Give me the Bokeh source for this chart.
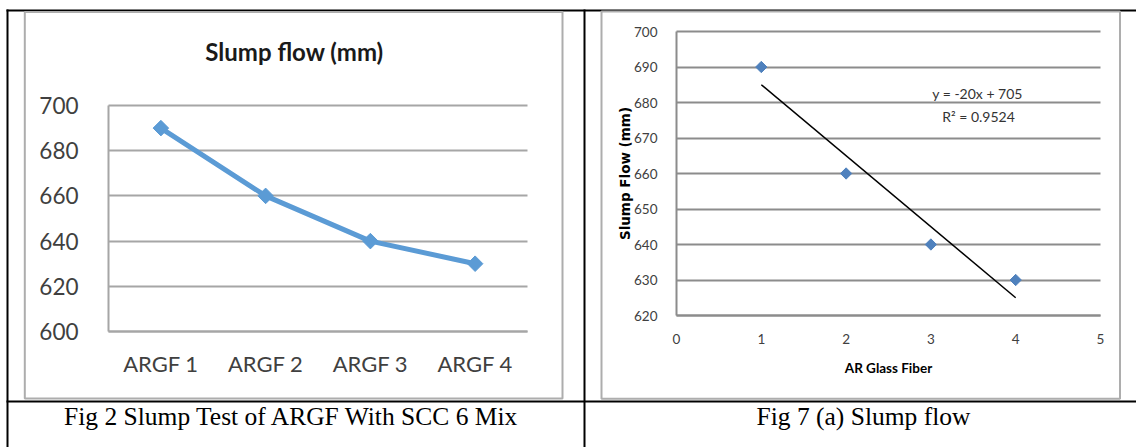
import numpy as np
from bokeh.plotting import figure
from bokeh.models import (Range1d, FixedTicker, LinearAxis, Grid, ColumnDataSource)
from bokeh.core.properties import value
from bokeh.embed import file_html
from bokeh.resources import INLINE

# ---------------- data ----------------
left_title = "Slump flow (mm)"
left_categories = ["ARGF 1", "ARGF 2", "ARGF 3", "ARGF 4"]
left_values = [690, 660, 640, 630]
left_y_ticks = [600, 620, 640, 660, 680, 700]

right_x = [1, 2, 3, 4]
right_y = [690, 660, 640, 630]
right_x_ticks = [0, 1, 2, 3, 4, 5]
right_y_ticks = [620, 630, 640, 650, 660, 670, 680, 690, 700]
right_x_label = "AR Glass Fiber"
right_y_label = "Slump Flow (mm)"

left_caption = "Fig 2 Slump Test of  ARGF With SCC 6 Mix"
right_caption = "Fig 7 (a) Slump flow"

# ---------------- page geometry (pixels) ----------------
W, H = 1136, 447
GRID_L = "#a6a6a6"
GRID_R = "#8c8c8c"
BOXC = "#adadad"
TICKC = "#404040"


def lin_range(v0, v1, p0, p1, size, flip=False):
    """Range such that value v0 lands on pixel p0 and v1 on pixel p1."""
    if flip:
        p0, p1 = size - p0, size - p1
    scale = (p1 - p0) / (v1 - v0)
    start = v0 - p0 / scale
    return Range1d(start, start + size / scale)


p = figure(width=W, height=H, x_range=Range1d(0, W), y_range=Range1d(H, 0),
           x_axis_type=None, y_axis_type=None, output_backend="svg",
           toolbar_location=None, min_border=0)
p.min_border_left = p.min_border_right = p.min_border_top = p.min_border_bottom = 0
p.outline_line_color = None
p.background_fill_color = "white"
p.border_fill_color = "white"

left_x_pos = list(range(1, len(left_categories) + 1))

p.extra_x_ranges = {
    "lx": lin_range(0.5, len(left_categories) + 0.5, 108, 527, W),
    "rx": lin_range(right_x_ticks[0], right_x_ticks[-1], 676, 1100, W),
}
p.extra_y_ranges = {
    "ly": lin_range(left_y_ticks[0], left_y_ticks[-1], 331, 105, H, flip=True),
    "ry": lin_range(right_y_ticks[0], right_y_ticks[-1], 315, 31, H, flip=True),
}

# ---------------- table / boxes (page decoration) ----------------
p.quad(left=[6, 6, 6, 583], right=[W, W, 8, 585], top=[9, 400, 9, 9],
       bottom=[11, 402, H, H], fill_color="black", line_color=None)
p.quad(left=[24.3, 601], right=[562, 1119.5], top=[11.5, 11], bottom=[398, 398.3],
       fill_color=None, line_color=BOXC, line_width=2)


def hgrid(xr, yr, ticks, x0, x1, color):
    if "cross_bounds" in Grid.properties():
        g = Grid(dimension=1, ticker=FixedTicker(ticks=ticks), x_range_name=xr,
                 y_range_name=yr, grid_line_color=color, grid_line_width=2,
                 cross_bounds=(x0, x1))
        p.add_layout(g)
    else:
        p.segment(x0=[x0] * len(ticks), x1=[x1] * len(ticks), y0=ticks, y1=ticks,
                  x_range_name=xr, y_range_name=yr, line_color=color, line_width=2)


def style_axis(ax, font, size, standoff, line_color):
    ax.major_label_text_font = font
    ax.major_label_text_font_size = size
    ax.major_label_text_color = TICKC
    ax.major_label_standoff = standoff
    ax.major_tick_line_color = None
    ax.minor_tick_line_color = None
    ax.axis_line_color = line_color
    ax.axis_line_width = 2


# ---------------- left chart ----------------
hgrid("lx", "ly", left_y_ticks, 0.5, len(left_categories) + 0.5, GRID_L)

ly_axis = LinearAxis(x_range_name="lx", y_range_name="ly", fixed_location=0.5,
                     bounds=(left_y_ticks[0], left_y_ticks[-1]),
                     ticker=FixedTicker(ticks=left_y_ticks))
style_axis(ly_axis, "Lato", "22.5px", 24, GRID_L)
p.add_layout(ly_axis, "left")

lx_axis = LinearAxis(x_range_name="lx", y_range_name="ly", fixed_location=left_y_ticks[0],
                     bounds=(0.5, len(left_categories) + 0.5),
                     ticker=FixedTicker(ticks=left_x_pos),
                     major_label_overrides={k: c for k, c in zip(left_x_pos, left_categories)})
style_axis(lx_axis, "Lato", "22px", 12, GRID_L)
p.add_layout(lx_axis, "below")

src1 = ColumnDataSource(dict(x=left_x_pos, y=left_values))
p.line("x", "y", source=src1, x_range_name="lx", y_range_name="ly",
       line_width=5, line_color="#5B9BD5")
p.scatter("x", "y", source=src1, x_range_name="lx", y_range_name="ly",
          marker="square", angle=np.pi / 4, size=11,
          fill_color="#5B9BD5", line_color="#5B9BD5")

p.text(x=[294], y=[51], text=[left_title], text_font=value("Lato"),
       text_font_style="bold", text_font_size="24px", text_color="#1a1a1a",
       text_align="center", text_baseline="alphabetic")

# ---------------- right chart ----------------
hgrid("rx", "ry", right_y_ticks, right_x_ticks[0], right_x_ticks[-1], GRID_R)

ry_axis = LinearAxis(x_range_name="rx", y_range_name="ry", fixed_location=right_x_ticks[0],
                     bounds=(right_y_ticks[0], right_y_ticks[-1]),
                     ticker=FixedTicker(ticks=right_y_ticks))
style_axis(ry_axis, "Lato", "13.5px", 13, GRID_R)
ry_axis.axis_label = right_y_label
ry_axis.axis_label_text_font = "DejaVu Sans"
ry_axis.axis_label_text_font_style = "bold"
ry_axis.axis_label_text_font_size = "13.5px"
ry_axis.axis_label_text_color = "black"
ry_axis.axis_label_standoff = -2
p.add_layout(ry_axis, "left")

rx_axis = LinearAxis(x_range_name="rx", y_range_name="ry", fixed_location=right_y_ticks[0],
                     bounds=(right_x_ticks[0], right_x_ticks[-1]),
                     ticker=FixedTicker(ticks=right_x_ticks))
style_axis(rx_axis, "Lato", "13.5px", 12, GRID_R)
rx_axis.axis_label = right_x_label
rx_axis.axis_label_text_font = "Lato"
rx_axis.axis_label_text_font_style = "bold"
rx_axis.axis_label_text_font_size = "13.5px"
rx_axis.axis_label_text_color = "black"
rx_axis.axis_label_standoff = 13
p.add_layout(rx_axis, "below")

src2 = ColumnDataSource(dict(x=right_x, y=right_y))
p.scatter("x", "y", source=src2, x_range_name="rx", y_range_name="ry",
          marker="square", angle=np.pi / 4, size=8,
          fill_color="#4F81BD", line_color="#4F81BD")

slope, intercept = np.polyfit(right_x, right_y, 1)
pred = slope * np.array(right_x) + intercept
ss_res = float(np.sum((np.array(right_y) - pred) ** 2))
ss_tot = float(np.sum((np.array(right_y) - np.mean(right_y)) ** 2))
r2 = 1 - ss_res / ss_tot
tx = [min(right_x), max(right_x)]
ty = [slope * v + intercept for v in tx]
p.line(tx, ty, x_range_name="rx", y_range_name="ry", line_color="black", line_width=1.5)

eq_text = f"y = {slope:.0f}x + {intercept:.0f}"
r2_text = f"R² = {r2:.4f}"
p.text(x=[977, 978], y=[93, 116], text=[eq_text, r2_text], text_font=value("Lato"),
       text_font_size="14px", text_color="#333333", text_align="center",
       text_baseline="alphabetic")

# ---------------- captions ----------------
p.text(x=[294.5, 863], y=[416, 416], text=[left_caption, right_caption],
       text_font=value("Liberation Serif"), text_font_size="25.5px", text_color="black",
       text_align="center", text_baseline="alphabetic")

open("out.html", "w").write(file_html(p, INLINE))
